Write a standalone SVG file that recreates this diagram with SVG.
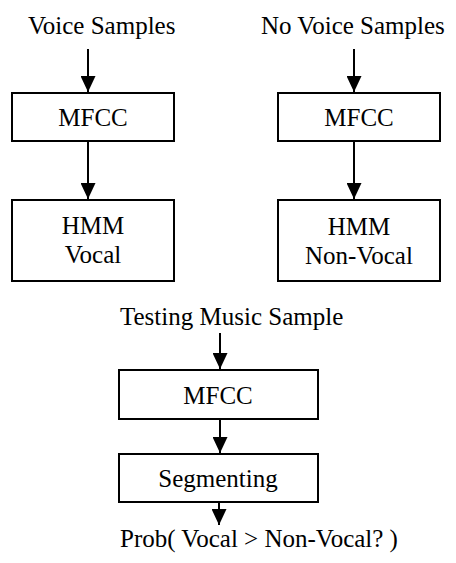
<svg xmlns="http://www.w3.org/2000/svg" width="456" height="563" viewBox="0 0 456 563">
  <style>
    text { font-family: "Liberation Serif", "Times New Roman", serif; font-size: 25px; fill: #000; }
    .c { text-anchor: middle; }
    .box { fill: #fff; stroke: #000; stroke-width: 2; }
    .wire { stroke: #000; stroke-width: 2; fill: none; }
  </style>
  <defs>
    <marker id="head" markerUnits="userSpaceOnUse" markerWidth="16" markerHeight="15" refX="16" refY="7.5" orient="auto">
      <path d="M0,0 L16,7.5 L0,15 Z" fill="#000"/>
    </marker>
  </defs>
  <rect width="456" height="563" fill="#fff"/>

  <!-- vocal training branch -->
  <g id="voice-samples"><text x="28" y="34">Voice Samples</text></g>
  <g id="mfcc-vocal">
    <rect class="box" x="12" y="93" width="162" height="48"/>
    <text class="c" x="93" y="126">MFCC</text>
  </g>
  <g id="hmm-vocal">
    <rect class="box" x="12" y="200" width="162" height="81"/>
    <text class="c" x="93" y="234">HMM</text>
    <text class="c" x="93" y="263">Vocal</text>
  </g>

  <!-- non-vocal training branch -->
  <g id="no-voice-samples"><text x="261" y="34">No Voice Samples</text></g>
  <g id="mfcc-nonvocal">
    <rect class="box" x="278" y="93" width="162" height="48"/>
    <text class="c" x="359" y="126">MFCC</text>
  </g>
  <g id="hmm-nonvocal">
    <rect class="box" x="278" y="200" width="162" height="81"/>
    <text class="c" x="359" y="235">HMM</text>
    <text class="c" x="359" y="264">Non-Vocal</text>
  </g>

  <!-- testing pipeline -->
  <g id="testing-sample"><text x="120" y="325">Testing Music Sample</text></g>
  <g id="mfcc-test">
    <rect class="box" x="119" y="370" width="199" height="49"/>
    <text class="c" x="218" y="404">MFCC</text>
  </g>
  <g id="segmenting">
    <rect class="box" x="119" y="454" width="199" height="48"/>
    <text class="c" x="218" y="487">Segmenting</text>
  </g>
  <g id="result"><text x="120" y="547">Prob( Vocal &gt; Non-Vocal? )</text></g>

  <g id="connectors">
    <line class="wire" x1="88" y1="49" x2="88" y2="92" marker-end="url(#head)"/>
    <line class="wire" x1="88" y1="141" x2="88" y2="199" marker-end="url(#head)"/>
    <line class="wire" x1="354" y1="49" x2="354" y2="92" marker-end="url(#head)"/>
    <line class="wire" x1="354" y1="141" x2="354" y2="199" marker-end="url(#head)"/>
    <line class="wire" x1="220" y1="333" x2="220" y2="369" marker-end="url(#head)"/>
    <line class="wire" x1="220" y1="419" x2="220" y2="453" marker-end="url(#head)"/>
    <line class="wire" x1="219" y1="502" x2="219" y2="525" marker-end="url(#head)"/>
  </g>
</svg>
